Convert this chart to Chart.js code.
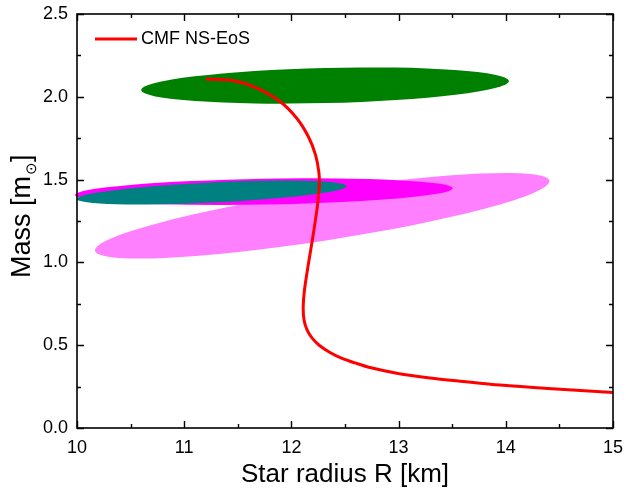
<!DOCTYPE html>
<html>
<head>
<meta charset="utf-8">
<script src="https://cdn.jsdelivr.net/npm/chart.js@4/dist/chart.umd.min.js"></script>
<style>
  html, body { margin: 0; padding: 0; background: #fff; }
  #wrap { width: 626px; height: 490px; position: relative; }
</style>
</head>
<body>
<div id="wrap"><canvas id="c" width="626" height="490"></canvas></div>
<script>
// ---- Data ----
const seriesLabel = 'CMF NS-EoS';
const radiusR = [11.201, 11.455, 11.679, 11.894, 12.052, 12.160, 12.225, 12.256, 12.260, 12.244, 12.206, 12.160, 12.122, 12.110, 12.118, 12.146, 12.192, 12.262, 12.360, 12.472, 12.593, 12.733, 12.994, 13.293, 13.601, 13.946, 14.394, 15.0];
const massM   = [2.108, 2.098, 2.053, 1.972, 1.869, 1.757, 1.649, 1.546, 1.467, 1.347, 1.178, 0.996, 0.833, 0.731, 0.652, 0.592, 0.544, 0.498, 0.456, 0.420, 0.393, 0.365, 0.329, 0.302, 0.281, 0.259, 0.238, 0.214];

// Constraint regions (ellipses): left tip, right tip, half-thickness (mass)
const regionNames     = ['wide', 'magenta', 'teal', 'green'];
const regionLeftR     = [10.168, 9.981, 9.997, 10.598];
const regionLeftM     = [1.071, 1.407, 1.383, 2.041];
const regionRightR    = [14.406, 13.505, 12.515, 14.030];
const regionRightM    = [1.493, 1.4475, 1.461, 2.095];
const regionHalfM     = [0.151, 0.078, 0.061, 0.106];
const regionColors    = ['#ff80ff', '#ff00ff', '#008080', '#008000'];

const xTicks = [10, 11, 12, 13, 14, 15];
const yTicks = [0.0, 0.5, 1.0, 1.5, 2.0, 2.5];

const FONT = "'Liberation Sans', Arial, Helvetica, sans-serif";

const ellipsePlugin = {
  id: 'ellipses',
  beforeDatasetsDraw(chart) {
    const ctx = chart.ctx, xs = chart.scales.x, ys = chart.scales.y;
    for (let i = 0; i < regionNames.length; i++) {
      const x1 = xs.getPixelForValue(regionLeftR[i]), y1 = ys.getPixelForValue(regionLeftM[i]);
      const x2 = xs.getPixelForValue(regionRightR[i]), y2 = ys.getPixelForValue(regionRightM[i]);
      const cx = (x1 + x2) / 2, cy = (y1 + y2) / 2;
      const a = Math.hypot(x2 - x1, y2 - y1) / 2;
      const b = Math.abs(ys.getPixelForValue(0) - ys.getPixelForValue(regionHalfM[i]));
      const ang = Math.atan2(y2 - y1, x2 - x1);
      ctx.save();
      ctx.beginPath();
      ctx.ellipse(cx, cy, a, b, ang, 0, Math.PI * 2);
      ctx.fillStyle = regionColors[i];
      ctx.fill();
      ctx.restore();
    }
  }
};

const framePlugin = {
  id: 'frame',
  afterDatasetsDraw(chart) {
    const ctx = chart.ctx, xs = chart.scales.x, ys = chart.scales.y;
    const { left, right, top, bottom } = chart.chartArea;
    ctx.save();
    ctx.strokeStyle = '#000';
    ctx.lineWidth = 1.6;
    ctx.strokeRect(left, top, right - left, bottom - top);
    ctx.lineWidth = 1.4;
    ctx.beginPath();
    for (let v = xs.min; v <= xs.max + 1e-9; v += 0.5) {
      const px = Math.round(xs.getPixelForValue(v)) + 0.5;
      const major = Math.abs(v - Math.round(v)) < 1e-9;
      const L = major ? 7 : 4;
      ctx.moveTo(px, bottom); ctx.lineTo(px, bottom - L);
      ctx.moveTo(px, top); ctx.lineTo(px, top + L);
    }
    for (let v = ys.min; v <= ys.max + 1e-9; v += 0.25) {
      const py = Math.round(ys.getPixelForValue(v)) + 0.5;
      const major = Math.abs(v * 2 - Math.round(v * 2)) < 1e-9;
      const L = major ? 7 : 4;
      ctx.moveTo(left, py); ctx.lineTo(left + L, py);
      ctx.moveTo(right, py); ctx.lineTo(right - L, py);
    }
    ctx.stroke();

    // legend
    ctx.strokeStyle = '#ff0000';
    ctx.lineWidth = 3;
    ctx.beginPath();
    ctx.moveTo(95, 39); ctx.lineTo(137, 39);
    ctx.stroke();
    ctx.fillStyle = '#000';
    ctx.font = '18px ' + FONT;
    ctx.textBaseline = 'middle';
    ctx.textAlign = 'left';
    ctx.fillText(seriesLabel, 141, 39.5);

    // y axis title with subscript sun symbol
    ctx.save();
    ctx.translate(30, 278);
    ctx.rotate(-Math.PI / 2);
    ctx.textBaseline = 'alphabetic';
    ctx.font = '27px ' + FONT;
    const t1 = 'Mass [m';
    ctx.fillText(t1, 0, 0);
    let w = ctx.measureText(t1).width;
    ctx.font = '15px ' + FONT;
    ctx.fillText('\u2299', w + 0.5, 6);
    w += ctx.measureText('\u2299').width + 1;
    ctx.font = '27px ' + FONT;
    ctx.fillText(']', w, 0);
    ctx.restore();
    ctx.restore();
  }
};

function noPad(s) { s.paddingTop = 0; s.paddingBottom = 0; s.paddingLeft = 0; s.paddingRight = 0; }

new Chart(document.getElementById('c'), {
  type: 'scatter',
  data: {
    datasets: [{
      label: seriesLabel,
      data: radiusR.map((r, i) => ({ x: r, y: massM[i] })),
      showLine: true,
      borderColor: '#ff0000',
      backgroundColor: '#ff0000',
      borderWidth: 3,
      pointRadius: 0,
      tension: 0.3,
      fill: false
    }]
  },
  options: {
    responsive: false,
    animation: false,
    events: [],
    layout: { padding: { top: 14, right: 13, left: 0, bottom: 0 } },
    plugins: { legend: { display: false }, tooltip: { enabled: false } },
    scales: {
      x: {
        type: 'linear', min: 10, max: 15,
        afterFit(s) { s.height = 62; noPad(s); },
        afterBuildTicks(s) { s.ticks = xTicks.map(v => ({ value: v })); },
        grid: { display: false, drawTicks: false },
        border: { display: false },
        ticks: { color: '#000', font: { family: FONT, size: 18 }, padding: 9, maxRotation: 0,
                 callback: v => String(v) },
        title: { display: true, text: 'Star radius R [km]', color: '#000',
                 font: { family: FONT, size: 26 }, padding: { top: 0, bottom: 0 } }
      },
      y: {
        type: 'linear', min: 0, max: 2.5,
        afterFit(s) { s.width = 77; noPad(s); },
        afterBuildTicks(s) { s.ticks = yTicks.map(v => ({ value: v })); },
        grid: { display: false, drawTicks: false },
        border: { display: false },
        ticks: { color: '#000', font: { family: FONT, size: 18 }, padding: 9,
                 callback: v => Number(v).toFixed(1) }
      }
    }
  },
  plugins: [ellipsePlugin, framePlugin]
});
</script>
</body>
</html>
